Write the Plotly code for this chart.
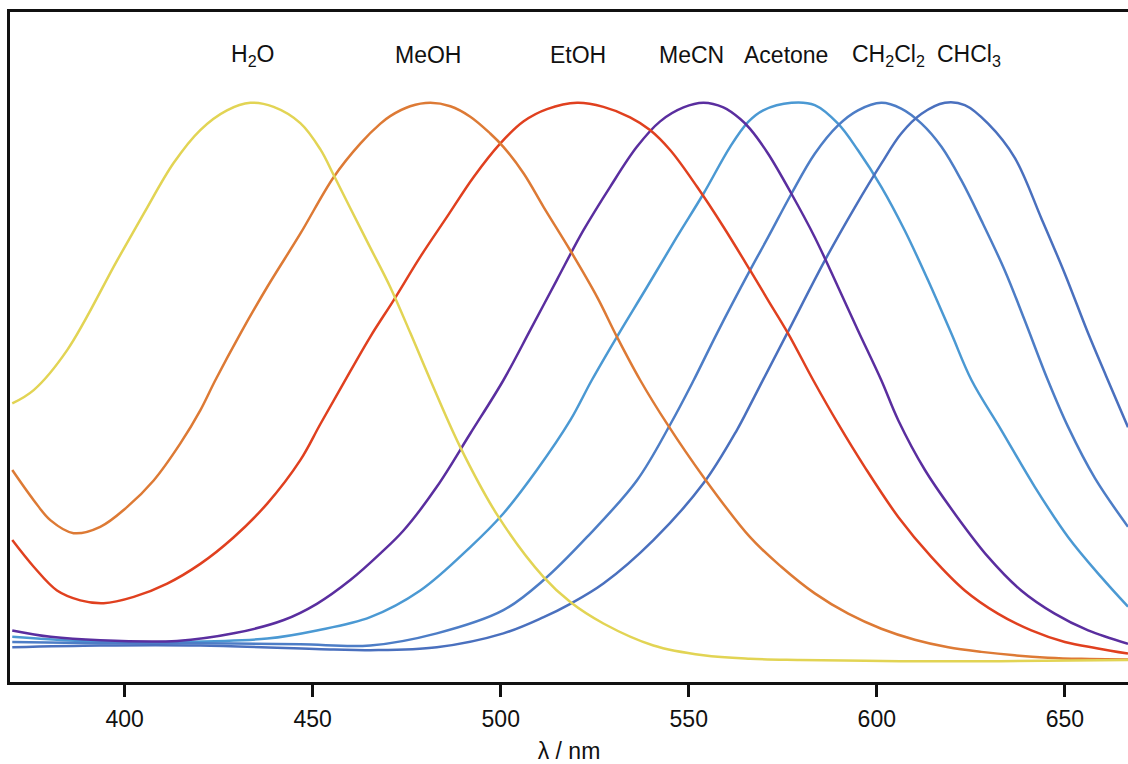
import plotly.graph_objects as go

# ---- data (wavelength in nm, normalized emission intensity) ----
h2o_nm = [370.1, 375.8, 384.7, 398.0, 405.1, 413.0, 420.1, 427.2, 433.4, 439.6, 446.7, 452.0, 455.6,
          460.0, 465.3, 470.6, 476.0, 481.3, 489.2, 499.4, 511.4, 518.5, 527.3, 540.6, 553.9, 566.3,
          579.6, 606.2, 632.8, 666.8]
h2o_int = [0.481, 0.504, 0.573, 0.728, 0.809, 0.896, 0.953, 0.987, 1.000, 0.993, 0.965, 0.920, 0.875,
           0.818, 0.750, 0.682, 0.602, 0.521, 0.406, 0.285, 0.181, 0.138, 0.101, 0.063, 0.046, 0.040,
           0.038, 0.036, 0.036, 0.038]

meoh_nm = [370.1, 375.8, 380.3, 386.4, 393.5, 400.6, 407.7, 414.8, 420.1, 424.1, 430.8, 437.9, 446.7,
           455.6, 462.7, 468.0, 470.6, 475.9, 481.3, 486.6, 491.9, 497.2, 500.7, 506.1, 511.4, 518.5,
           525.6, 530.9, 537.1, 544.2, 553.9, 566.3, 574.6, 583.5, 592.4, 601.2, 610.1, 619.0, 627.8,
           636.7, 645.5, 654.4, 666.8]
meoh_int = [0.366, 0.314, 0.279, 0.257, 0.268, 0.302, 0.348, 0.412, 0.469, 0.521, 0.602, 0.682, 0.774,
            0.872, 0.930, 0.964, 0.977, 0.994, 1.000, 0.994, 0.976, 0.947, 0.924, 0.878, 0.820, 0.745,
            0.665, 0.596, 0.521, 0.446, 0.354, 0.250, 0.199, 0.153, 0.118, 0.092, 0.073, 0.060, 0.052,
            0.046, 0.042, 0.040, 0.039]

etoh_nm = [370.1, 375.8, 382.0, 388.2, 394.4, 402.4, 411.3, 420.1, 429.0, 437.9, 446.7, 452.0, 458.2,
           465.3, 471.5, 478.6, 485.7, 492.8, 499.9, 506.1, 512.3, 520.3, 527.3, 534.4, 539.7, 545.1,
           552.2, 559.2, 566.3, 571.1, 576.4, 583.1, 589.7, 596.8, 605.7, 614.5, 623.4, 632.2, 641.1,
           650.0, 658.8, 666.8]
etoh_int = [0.245, 0.199, 0.158, 0.141, 0.136, 0.147, 0.170, 0.204, 0.250, 0.308, 0.383, 0.445, 0.516,
            0.596, 0.659, 0.734, 0.803, 0.872, 0.930, 0.968, 0.989, 1.000, 0.993, 0.975, 0.953, 0.918,
            0.855, 0.786, 0.711, 0.659, 0.602, 0.521, 0.446, 0.371, 0.285, 0.216, 0.158, 0.118, 0.089,
            0.069, 0.058, 0.049]

mecn_nm = [370.1, 380.3, 393.5, 413.9, 429.0, 442.3, 451.1, 460.0, 468.0, 474.2, 483.0, 491.9, 500.7,
           507.8, 514.9, 522.0, 529.1, 536.2, 542.4, 548.6, 553.9, 559.2, 563.7, 566.3, 571.1, 577.3,
           583.5, 589.7, 595.0, 601.2, 605.7, 612.8, 620.7, 629.6, 638.4, 647.3, 656.2, 666.8]
mecn_int = [0.089, 0.078, 0.072, 0.071, 0.084, 0.107, 0.135, 0.176, 0.222, 0.262, 0.337, 0.429, 0.521,
            0.607, 0.694, 0.780, 0.855, 0.924, 0.968, 0.992, 1.000, 0.992, 0.972, 0.955, 0.912, 0.843,
            0.768, 0.682, 0.607, 0.521, 0.452, 0.366, 0.291, 0.216, 0.158, 0.118, 0.089, 0.066]

acetone_nm = [370.1, 393.5, 411.3, 437.9, 451.1, 465.3, 478.6, 491.9, 500.7, 509.6, 518.5, 524.2,
              530.9, 538.9, 546.8, 553.9, 561.0, 565.8, 569.8, 577.3, 583.5, 589.7, 595.0, 601.2,
              607.4, 613.6, 619.8, 625.2, 633.1, 642.0, 650.9, 659.7, 666.8]
acetone_int = [0.078, 0.069, 0.069, 0.075, 0.089, 0.112, 0.158, 0.233, 0.291, 0.366, 0.452, 0.521,
               0.596, 0.682, 0.768, 0.843, 0.924, 0.967, 0.987, 1.000, 0.996, 0.964, 0.918, 0.855,
               0.780, 0.694, 0.602, 0.521, 0.435, 0.337, 0.250, 0.181, 0.130]

ch2cl2_nm = [370.1, 393.5, 420.1, 446.7, 465.3, 483.0, 500.7, 511.4, 522.9, 536.2, 545.1, 551.3,
             557.5, 566.3, 571.1, 577.3, 583.5, 589.7, 595.0, 601.2, 606.5, 611.9, 617.2, 622.5,
             627.8, 634.0, 639.3, 645.5, 650.9, 658.0, 666.8]
ch2cl2_int = [0.069, 0.067, 0.067, 0.065, 0.063, 0.084, 0.124, 0.176, 0.250, 0.348, 0.445, 0.521,
              0.602, 0.711, 0.768, 0.843, 0.912, 0.961, 0.987, 1.000, 0.990, 0.964, 0.924, 0.866,
              0.797, 0.711, 0.625, 0.521, 0.440, 0.352, 0.268]

chcl3_nm = [370.1, 393.5, 420.1, 455.6, 465.3, 483.0, 500.7, 511.4, 518.5, 527.3, 540.6, 553.9,
            562.8, 566.3, 569.3, 576.4, 586.2, 594.2, 601.2, 606.5, 611.9, 618.1, 623.4, 629.6,
            636.7, 643.8, 650.0, 656.2, 661.0, 666.8]
chcl3_int = [0.060, 0.063, 0.063, 0.056, 0.055, 0.060, 0.084, 0.112, 0.135, 0.170, 0.245, 0.343,
             0.435, 0.478, 0.516, 0.605, 0.728, 0.820, 0.895, 0.947, 0.981, 1.000, 0.996, 0.964,
             0.905, 0.800, 0.705, 0.602, 0.528, 0.440]

labels = ["H<sub>2</sub>O", "MeOH", "EtOH", "MeCN", "Acetone", "CH<sub>2</sub>Cl<sub>2</sub>", "CHCl<sub>3</sub>"]
label_x = [433.9, 480.7, 520.6, 550.7, 575.9, 603.0, 624.6]

x_ticks = [400, 450, 500, 550, 600, 650]

series = [
    (acetone_nm, acetone_int, "#4B99D3"),
    (ch2cl2_nm, ch2cl2_int, "#4D7DC6"),
    (chcl3_nm, chcl3_int, "#4A70BE"),
    (mecn_nm, mecn_int, "#5A2E9F"),
    (etoh_nm, etoh_int, "#E0401F"),
    (meoh_nm, meoh_int, "#DD7A35"),
    (h2o_nm, h2o_int, "#E2D454"),
]

fig = go.Figure()
for xs, ys, col in series:
    fig.add_trace(go.Scatter(x=xs, y=ys, mode="lines",
                             line=dict(color=col, width=2.5, shape="spline", smoothing=1.0),
                             showlegend=False, hoverinfo="skip"))

FONT = "Liberation Sans, Arial, sans-serif"
for lab, lx in zip(labels, label_x):
    fig.add_annotation(x=lx, y=0.9354, xref="x", yref="paper", text=lab, showarrow=False,
                       font=dict(family=FONT, size=23, color="#111111"),
                       xanchor="center", yanchor="middle")

fig.update_layout(
    width=1128, height=764,
    margin=dict(l=10, r=0, t=12, b=82),
    paper_bgcolor="white", plot_bgcolor="white",
    font=dict(family=FONT, size=23, color="#111111"),
    xaxis=dict(range=[369.5, 666.8], tickvals=x_ticks, ticks="outside", ticklen=12, tickwidth=2.5,
               tickcolor="#111111", showline=True, linecolor="#111111", linewidth=2.5, mirror=True,
               showgrid=False, zeroline=False, ticklabelstandoff=3,
               tickfont=dict(family=FONT, size=23, color="#111111"),
               title=dict(text="λ / nm", standoff=12, font=dict(family=FONT, size=23, color="#111111"))),
    yaxis=dict(range=[0, 1.1568], showline=True, linecolor="#111111", linewidth=3,
               showticklabels=False, ticks="", showgrid=False, zeroline=False),
)

fig.write_html("out.html")
